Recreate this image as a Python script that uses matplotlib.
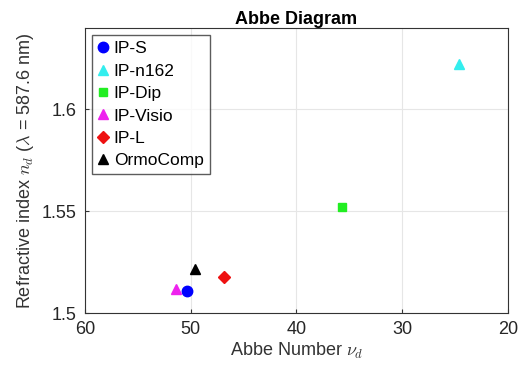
import matplotlib
matplotlib.use('Agg')
import matplotlib.pyplot as plt

plt.rcParams['font.family'] = ['Liberation Sans', 'DejaVu Sans']
plt.rcParams['mathtext.fontset'] = 'cm'

# data
materials = ['IP-S', 'IP-n162', 'IP-Dip', 'IP-Visio', 'IP-L', 'OrmoComp']
abbe = [50.4, 24.6, 35.7, 51.4, 46.9, 49.6]
n_d = [1.5108, 1.6225, 1.552, 1.5118, 1.5176, 1.5216]
markers = ['o', '^', 's', '^', 'D', '^']
colors = ['#0000ff', '#33eeee', '#22ee22', '#ee22ee', '#ee1111', '#000000']
sizes = [7.5, 7.5, 6, 7.5, 6, 7.5]

fig = plt.figure(figsize=(5.18, 3.77), dpi=100)
ax = fig.add_axes([85/518, 1 - 313/377, 423/518, 285/377])

for name, x, y, m, c, s in zip(materials, abbe, n_d, markers, colors, sizes):
    ax.plot(x, y, linestyle='none', marker=m, color=c, markersize=s, label=name)

ax.set_xlim(60, 20)
ax.set_ylim(1.5, 1.64)
ax.set_xticks([60, 50, 40, 30, 20])
ax.set_yticks([1.5, 1.55, 1.6])
ax.set_yticklabels(['1.5', '1.55', '1.6'])
ax.grid(True, color='#e6e6e6', linewidth=0.8)
ax.set_axisbelow(True)
ax.tick_params(direction='in', labelsize=13, length=3, color='#333333',
               labelcolor='#262626')
ax.tick_params(axis='x', pad=6)
ax.tick_params(axis='y', pad=6)
for sp in ax.spines.values():
    sp.set_color('#333333')

ax.set_title('Abbe Diagram', fontsize=13, fontweight='bold', pad=3)
ax.set_xlabel(r'Abbe Number $\nu_d$', fontsize=13, color='#333333', labelpad=2)
ax.set_ylabel(r'Refractive index $n_d$ ($\lambda$ = 587.6 nm)', fontsize=13,
              color='#333333', labelpad=4)

leg = ax.legend(loc='upper left', fontsize=12.5, frameon=True, fancybox=False,
                handlelength=0.6, handletextpad=0.3, borderpad=0.35,
                labelspacing=0.42, borderaxespad=0.4, edgecolor='#333333')
leg.get_frame().set_linewidth(1.0)

fig.savefig('out.png', dpi=100)
